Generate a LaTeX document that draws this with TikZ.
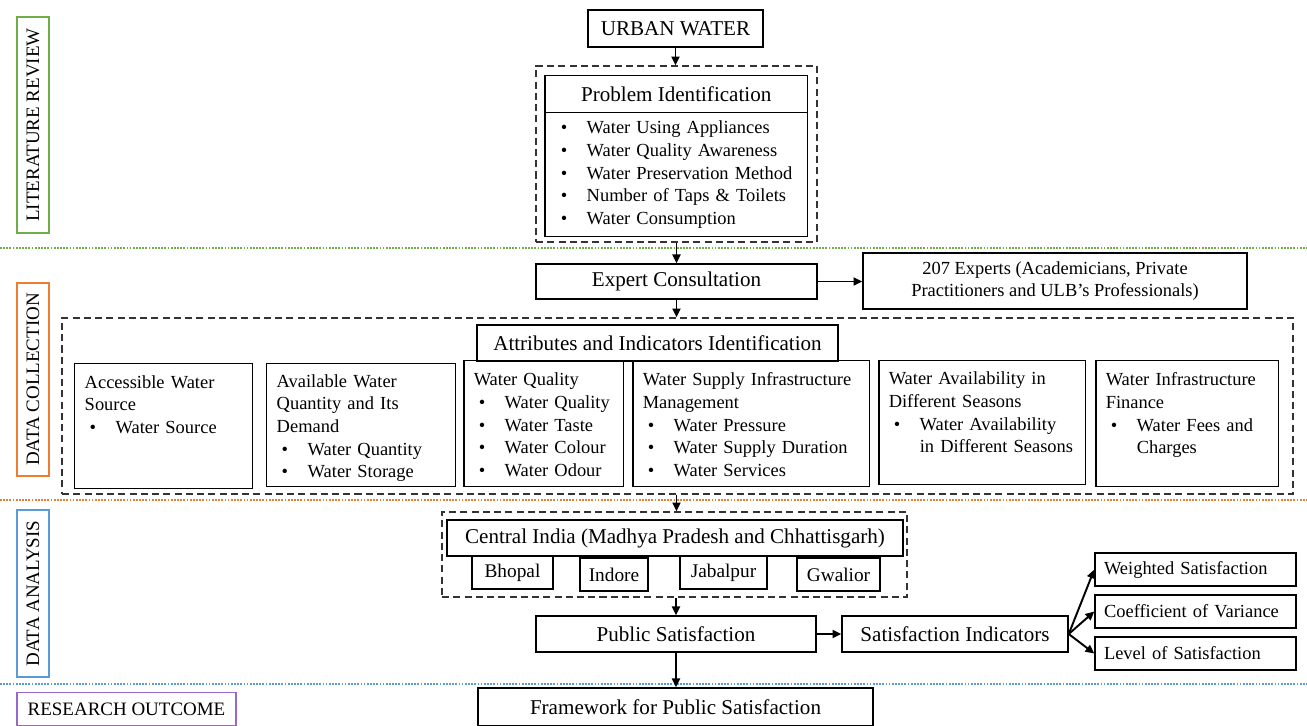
\documentclass[tikz,border=0pt]{standalone}
\usepackage{fontspec}
\setmainfont{Liberation Serif}
\usetikzlibrary{arrows.meta,positioning}
\definecolor{litverde}{HTML}{70AD47}
\definecolor{colaranja}{HTML}{ED7D31}
\definecolor{anaazul}{HTML}{5B9BD5}
\definecolor{resroxo}{HTML}{9966CC}
\newcommand{\itm}[1]{\hspace*{0.1cm}\makebox[0.52cm][l]{\textbullet}\mbox{#1}}
\newcommand{\pad}{\\\strut}

\begin{document}
\begin{tikzpicture}[x=0.02cm, y=-0.02cm, >={Triangle[length=5pt,width=4.6pt]},
  big/.style={font=\fontsize{12}{14}\selectfont},
  txt/.style={font=\fontsize{10.5}{12.9}\selectfont},
  box/.style={draw, line width=0.85pt, inner sep=0pt},
  attr/.style={box, txt, anchor=north west, align=left, inner xsep=0.2cm, execute at begin node={\rule{0pt}{12.2pt}}, execute at end node=\strut},
  grp/.style={draw=black!80, line width=0.8pt, dash pattern=on 4pt off 2.4pt, inner sep=0pt},
  phase/.style={draw=#1, line width=1pt, rotate=90, minimum height=0.64cm, inner sep=0pt, font=\fontsize{10.8}{13}\selectfont},
  sep/.style={draw=#1, line width=1.3pt, dash pattern=on 1pt off 0.8pt},
  arr/.style={->, line width=1.1pt}]
  \useasboundingbox (0,0) rectangle (1307,726);
  \draw[sep=litverde] (0,248) -- (1307,248);
  \draw[sep=colaranja] (0,500) -- (1307,500);
  \draw[sep=anaazul] (0,684) -- (1307,684);
  \node[phase=litverde, minimum width=4.32cm] (lr) at (33,125) {LITERATURE REVIEW};
  \node[phase=colaranja, minimum width=3.86cm] (dc) at (33,379.5) {DATA COLLECTION};
  \node[phase=anaazul, minimum width=3.34cm] (da) at (33,593.5) {DATA ANALYSIS};
  \node[draw=resroxo, line width=1pt, minimum width=4.38cm, minimum height=0.66cm, inner sep=0pt, font=\fontsize{10.8}{13}\selectfont] (ro) at (126.5,709) {RESEARCH OUTCOME};
  \node[box, big, minimum width=3.50cm, minimum height=0.74cm] (uw) at (675.5,28.5) {URBAN WATER};
  \node[grp, minimum width=5.62cm, minimum height=3.52cm] (pg) at (676.5,154) {};
  \node[box, big, anchor=north west, minimum width=5.26cm, minimum height=0.74cm] (pi) at (544,75) {Problem Identification};
  \node[box, txt, anchor=north west, minimum width=5.26cm, minimum height=2.48cm, text width=4.82cm, inner xsep=0.22cm, align=left,
    execute at begin node=\strut, execute at end node=\strut] (pil) at (544,112)
    {\itm{Water Using Appliances}\\\itm{Water Quality Awareness}\\\itm{Water Preservation Method}\\\itm{Number of Taps \& Toilets}\\\itm{Water Consumption}};
  \node[box, big, minimum width=5.62cm, minimum height=0.70cm] (ec) at (676.5,281.5) {Expert Consultation};
  \node[box, txt, minimum width=7.68cm, minimum height=1.12cm, align=center] (ex) at (1055,281)
    {207 Experts (Academicians, Private\\Practitioners and ULB's Professionals)};
  \node[grp, minimum width=24.62cm, minimum height=3.52cm] (ag) at (677.5,406) {};
  \node[box, big, minimum width=7.22cm, minimum height=0.72cm] (ai) at (657.5,343) {Attributes and Indicators Identification};
  \node[attr, minimum width=3.56cm, minimum height=2.50cm, text width=3.16cm] (a1) at (74,363)
    {Accessible Water\\Source\\\itm{Water Source}\pad\pad};
  \node[attr, minimum width=3.78cm, minimum height=2.46cm, text width=3.38cm] (a2) at (266,363)
    {Available Water\\Quantity and Its\\Demand\\\itm{Water Quantity}\\\itm{Water Storage}};
  \node[attr, minimum width=3.20cm, minimum height=2.52cm, text width=2.80cm] (a3) at (463,360)
    {Water Quality\\\itm{Water Quality}\\\itm{Water Taste}\\\itm{Water Colour}\\\itm{Water Odour}};
  \node[attr, minimum width=4.74cm, minimum height=2.52cm, text width=4.34cm] (a4) at (632,360)
    {Water Supply Infrastructure\\Management\\\itm{Water Pressure}\\\itm{Water Supply Duration}\\\itm{Water Services}};
  \node[attr, minimum width=4.14cm, minimum height=2.48cm, text width=3.74cm] (a5) at (878,360)
    {Water Availability in\\Different Seasons\\\itm{Water Availability}\\\hspace*{0.62cm}in Different Seasons\pad};
  \node[attr, minimum width=3.66cm, minimum height=2.52cm, text width=3.26cm] (a6) at (1095,360)
    {Water Infrastructure\\Finance\\\itm{Water Fees and}\\\hspace*{0.62cm}Charges\pad};
  \node[grp, minimum width=9.30cm, minimum height=1.70cm] (cg) at (674.5,554.5) {};
  \node[box, big, minimum width=9.12cm, minimum height=0.72cm] (ci) at (675,538) {Central India (Madhya Pradesh and Chhattisgarh)};
  \node[box, font=\fontsize{11}{13}\selectfont, minimum width=1.62cm, minimum height=0.66cm] (bh) at (512.5,572.5) {Bhopal};
  \node[box, font=\fontsize{11}{13}\selectfont, minimum width=1.36cm, minimum height=0.66cm] (ind) at (614,574.5) {Indore};
  \node[box, font=\fontsize{11}{13}\selectfont, minimum width=1.74cm, minimum height=0.66cm] (jb) at (723.5,572.5) {Jabalpur};
  \node[box, font=\fontsize{11}{13}\selectfont, minimum width=1.66cm, minimum height=0.66cm] (gw) at (838.5,574.5) {Gwalior};
  \node[box, big, minimum width=5.60cm, minimum height=0.72cm] (ps) at (676,634) {Public Satisfaction};
  \node[box, big, minimum width=4.52cm, minimum height=0.72cm] (si) at (955,634) {Satisfaction Indicators};
  \node[box, txt, minimum width=4.02cm, minimum height=0.66cm, text width=3.66cm, inner xsep=0.18cm, align=left] (ws) at (1195.5,569.5) {Weighted Satisfaction};
  \node[box, txt, minimum width=4.02cm, minimum height=0.66cm, text width=3.66cm, inner xsep=0.18cm, align=left] (cv) at (1195.5,611.5) {Coefficient of Variance};
  \node[box, txt, minimum width=4.02cm, minimum height=0.66cm, text width=3.66cm, inner xsep=0.18cm, align=left] (ls) at (1195.5,653.5) {Level of Satisfaction};
  \node[box, big, minimum width=7.90cm, minimum height=0.76cm] (fw) at (675.5,707) {Framework for Public Satisfaction};
  \draw[arr] (uw.south) -- (uw.south |- pg.north);
  \draw[arr] (pg.south -| ec.north) -- (ec.north);
  \draw[arr] (ec.east) -- (ec.east -| ex.west);
  \draw[arr] (ec.south) -- (ec.south |- ag.north);
  \draw[arr] (ag.south -| ec.south) -- (cg.north -| ec.south);
  \draw[arr] (cg.south -| ps.north) -- (ps.north);
  \draw[arr] (ps.east) -- (si.west);
  \draw[arr] (si.east) -- (ws.west);
  \draw[arr] (si.east) -- (cv.west);
  \draw[arr] (si.east) -- (ls.west);
  \draw[arr] (ps.south) -- (ps.south |- fw.north);
\end{tikzpicture}
\end{document}
